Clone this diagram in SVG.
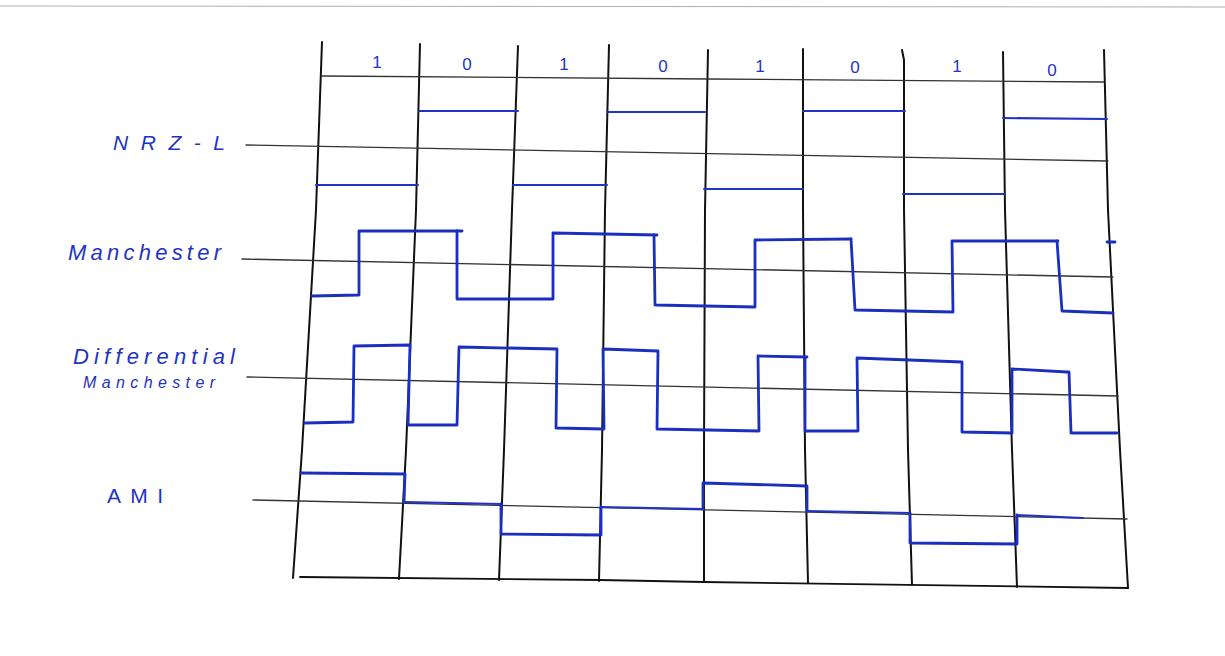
<svg xmlns="http://www.w3.org/2000/svg" width="1225" height="656" viewBox="0 0 1225 656">
<style>
.grid{fill:none;stroke:#111;stroke-width:2;stroke-linecap:round;stroke-linejoin:round}
.axis{fill:none;stroke:#333;stroke-width:1.3;stroke-linecap:round}
.sig{fill:none;stroke:#1f33c4;stroke-width:2;stroke-linecap:round;stroke-linejoin:round}
.sigb{fill:none;stroke:#1a2fc0;stroke-width:2.8;stroke-linecap:round;stroke-linejoin:round}
.lbl{font-family:"Liberation Sans",Arial,sans-serif;fill:#1f33c4;font-style:italic}
.bit{font-family:"Liberation Sans",Arial,sans-serif;fill:#1f33c4;font-size:17px;text-anchor:middle}
</style>
<rect width="1225" height="656" fill="#ffffff"/>
<line x1="0" y1="6" x2="1225" y2="7" stroke="#777" stroke-width="1" opacity="0.6"/>

<g id="grid">
  <polyline class="grid" points="322,42 316,210 302,450 293,578"/>
  <polyline class="grid" points="420,44 416,210 406,450 399,579"/>
  <polyline class="grid" points="518,46 512,210 504,450 499,580"/>
  <polyline class="grid" points="609,45 605,210 602,450 599,581"/>
  <polyline class="grid" points="708,50 705,210 704,450 704,582"/>
  <polyline class="grid" points="803,49 803,210 805,450 808,583"/>
  <polyline class="grid" points="902,50 904,60 904,210 908,450 912,585"/>
  <polyline class="grid" points="1003,52 1005,210 1012,450 1017,587"/>
  <polyline class="grid" points="1104,50 1108,210 1120,450 1128,588"/>
  <polyline class="axis" points="322,76 708,79 1104,82"/>
  <polyline class="grid" style="stroke-width:1.8" points="300,577 600,580 704,582 1128,588"/>
</g>

<g id="axes">
  <line class="axis" x1="246" y1="145" x2="1108" y2="161"/>
  <line class="axis" x1="242" y1="259" x2="1113" y2="277"/>
  <line class="axis" x1="247" y1="377" x2="1118" y2="396"/>
  <line class="axis" x1="253" y1="500" x2="1127" y2="519"/>
</g>

<g id="bits">
  <text class="bit" x="377" y="68">1</text>
  <text class="bit" x="467" y="70">0</text>
  <text class="bit" x="564" y="70">1</text>
  <text class="bit" x="663" y="72">0</text>
  <text class="bit" x="760" y="72">1</text>
  <text class="bit" x="855" y="73">0</text>
  <text class="bit" x="957" y="72">1</text>
  <text class="bit" x="1052" y="76">0</text>
</g>

<g id="labels">
  <text id="label-nrzl" class="lbl" x="113" y="150" font-size="21" textLength="112" lengthAdjust="spacing">NRZ-L</text>
  <text id="label-manchester" class="lbl" x="68" y="260" font-size="22" textLength="153" lengthAdjust="spacing">Manchester</text>
  <text id="label-diff" class="lbl" x="73" y="364" font-size="22" textLength="162" lengthAdjust="spacing">Differential</text>
  <text id="label-diff2" class="lbl" x="83" y="388" font-size="16" textLength="132" lengthAdjust="spacing">Manchester</text>
  <text id="label-ami" class="lbl" x="107" y="503" font-size="21" textLength="56" lengthAdjust="spacing" style="font-style:normal">AMI</text>
</g>

<g id="nrzl">
  <line class="sig" x1="316" y1="185" x2="418" y2="185"/>
  <line class="sig" x1="419" y1="111" x2="518" y2="111"/>
  <line class="sig" x1="513" y1="185" x2="607" y2="185"/>
  <line class="sig" x1="607" y1="112" x2="705" y2="112"/>
  <line class="sig" x1="704" y1="189" x2="803" y2="189"/>
  <line class="sig" x1="803" y1="111" x2="905" y2="111"/>
  <line class="sig" x1="903" y1="194" x2="1005" y2="194"/>
  <line class="sig" x1="1003" y1="118" x2="1107" y2="119"/>
</g>

<g id="manchester">
  <polyline class="sigb" points="312,296 359,295 359,231 462,231"/>
  <polyline class="sigb" points="457,231 457,299 553,299 553,233 657,235"/>
  <polyline class="sigb" points="654,235 655,305 755,307 755,240 851,239"/>
  <polyline class="sigb" points="851,239 855,310 953,312 952,241 1058,241"/>
  <polyline class="sigb" points="1057,241 1062,311 1113,313"/>
  <line class="sigb" x1="1107" y1="242" x2="1115" y2="242"/>
</g>

<g id="diff-manchester">
  <polyline class="sigb" points="305,423 353,422 354,346 410,345 408,425 457,425 459,347 557,349 556,428 604,429 603,349 658,351 657,429 759,431 758,356 807,357"/>
  <polyline class="sigb" points="805,357 805,431 858,431 857,358 962,362 962,432 1012,433 1012,369 1067,372 1069,372 1071,433 1117,433"/>
</g>

<g id="ami">
  <polyline class="sigb" points="301,473 405,474 404,502"/>
  <polyline class="sig" points="404,502 501,504"/>
  <polyline class="sigb" points="501,504 501,534 601,535 601,507"/>
  <polyline class="sig" points="601,507 703,509"/>
  <polyline class="sigb" points="703,509 703,483 807,486 807,511"/>
  <polyline class="sig" points="807,511 910,513"/>
  <polyline class="sigb" points="910,513 910,543 1017,544 1017,515"/>
  <polyline class="sig" points="1017,515 1083,518"/>
</g>
</svg>
